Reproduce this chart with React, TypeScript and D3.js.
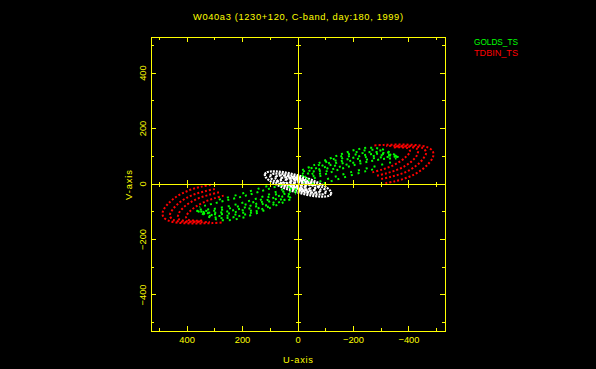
import React from "react";
import * as d3 from "d3";

const title = "W040a3 (1230+120, C-band, day:180, 1999)";
const xLabel = "U-axis";
const yLabel = "V-axis";
const tickValues = [-500, -400, -300, -200, -100, 0, 100, 200, 300, 400, 500];
const labelValues = [400, 200, 0, -200, -400];
const legendNames = ["GOLDS_TS", "TDBIN_TS"];
const legendColors = ["#00ff00", "#ff0000"];

// uv tracks, one half only (u, v); the conjugate (-u, -v) is drawn too
const goldsTracks = [
  [[-15, 50], [-60, 69], [-110, 90], [-160, 109], [-210, 124], [-255, 131], [-300, 126], [-340, 110], [-360, 100]],
  [[-12, 42], [-60, 62], [-110, 83], [-160, 101], [-210, 115], [-258, 123], [-302, 120], [-342, 106], [-362, 98]],
  [[-8, 34], [-60, 55], [-110, 75], [-160, 93], [-210, 107], [-260, 115], [-305, 113], [-345, 102], [-365, 95]],
  [[-6, 26], [-58, 46], [-108, 65], [-158, 83], [-208, 97], [-258, 107], [-302, 109], [-342, 101], [-366, 95]],
  [[-5, 18], [-55, 38], [-105, 56], [-155, 73], [-205, 88], [-255, 99], [-300, 104], [-340, 101], [-368, 96]],
  [[-12, 12], [-62, 31], [-112, 49], [-162, 66], [-212, 80], [-262, 91], [-308, 97], [-348, 96]],
  [[-20, 6], [-70, 25], [-120, 43], [-170, 59], [-220, 73], [-270, 84], [-315, 91], [-355, 92]],
  [[-50, 0], [-100, 16], [-150, 31], [-200, 45], [-250, 57], [-295, 68], [-335, 78], [-355, 84]],
  [[-90, 2], [-140, 16], [-190, 31], [-240, 45], [-288, 57]],
];

const tdbinTracks = [
  [[315, -3], [350, -10], [385, -20], [418, -34], [447, -52], [471, -74], [487, -98], [486, -118], [465, -133], [430, -140], [390, -142], [350, -142], [310, -141], [275, -139]],
  [[300, -18], [335, -26], [370, -36], [402, -50], [430, -69], [452, -92], [462, -114], [450, -129], [420, -136], [385, -138], [350, -138], [318, -137]],
  [[285, -30], [320, -39], [355, -50], [386, -65], [412, -84], [430, -106], [432, -124], [410, -133], [378, -135], [345, -135]],
  [[268, -42], [303, -52], [336, -64], [366, -80], [390, -99], [404, -118], [395, -129], [370, -132], [345, -132]],
];

const shortTracks = [
  [[119.9, 35.5], [113.6, 41.7], [99.6, 45.1], [78.8, 45.4], [52.5, 42.7], [22.9, 37.0], [-8.5, 28.8], [-39.3, 18.6], [-67.3, 7.1], [-90.8, -4.8], [-108.1, -16.3], [-118.0, -26.8], [-119.9, -35.5]],
  [[100.7, 29.8], [95.4, 34.7], [83.8, 37.3], [66.4, 37.4], [44.4, 34.8], [19.5, 29.9], [-6.8, 23.0], [-32.7, 14.5], [-56.2, 5.0], [-76.0, -4.8], [-90.6, -14.3], [-99.0, -22.9], [-100.7, -29.8]],
  [[81.5, 24.1], [77.2, 28.3], [67.8, 30.5], [53.6, 30.6], [35.9, 28.7], [15.6, 24.7], [-5.7, 19.2], [-26.6, 12.3], [-45.7, 4.5], [-61.6, -3.6], [-73.4, -11.3], [-80.2, -18.3], [-81.5, -24.1]],
  [[62.3, 18.5], [59.0, 21.7], [51.7, 23.7], [40.9, 23.9], [27.3, 22.5], [11.7, 19.7], [-4.5, 15.3], [-20.5, 10.1], [-35.1, 4.1], [-47.3, -2.3], [-56.3, -8.3], [-61.4, -13.9], [-62.3, -18.5]],
  [[46.0, 13.6], [37.9, 18.5], [19.6, 18.4], [-4.0, 13.4], [-26.4, 4.8], [-41.9, -5.1], [-46.0, -13.6]],
  [[30.7, 9.1], [12.8, 12.8], [-2.8, 9.6], [-17.8, 3.8], [-30.7, -9.1]],
  [[17.3, 5.1], [-1.7, 5.8], [-17.3, -5.1]],
];

const W = 596;
const H = 369;
const left = 151;
const right = 445;
const top = 37;
const bottom = 331;
const yellow = "#ffff00";
const font = "'Liberation Sans', Arial, sans-serif";

const fmt = (v: number) => (v < 0 ? "\u2212" + Math.abs(v) : String(v));

export default function App() {
  const x = d3.scaleLinear().domain([530, -530]).range([left, right]);
  const y = d3.scaleLinear().domain([530, -530]).range([top, bottom]);
  const line = d3
    .line<number[]>()
    .x((d) => x(d[0]))
    .y((d) => y(d[1]))
    .curve(d3.curveCatmullRom);

  const both = (tracks: number[][][]) =>
    tracks.flatMap((t) => [t, t.map(([u, v]) => [-u, -v])]);

  const tickLen = (v: number) => (v % 200 === 0 ? 5 : 3);
  const crossLen = (v: number) => (v % 200 === 0 ? 4 : 2.5);
  const greenDash = ["2 4", "2 5", "2 6"];

  return (
    <svg
      width={W}
      height={H}
      style={{ position: "absolute", left: 0, top: 0, display: "block", background: "#000" }}
    >
      <rect x={0} y={0} width={W} height={H} fill="#000" />

      {/* tracks */}
      {both(tdbinTracks).map((t, i) => (
        <path key={"r" + i} d={line(t) || ""} fill="none" stroke="#ff0000" strokeWidth={2} strokeDasharray="2 2" />
      ))}
      {both(shortTracks).map((t, i) => (
        <path key={"w" + i} d={line(t) || ""} fill="none" stroke="#ffffff" strokeWidth={2.2} strokeDasharray={i < 4 ? "2 1" : "3 1"} />
      ))}
      {both(goldsTracks).map((t, i) => (
        <path
          key={"g" + i}
          d={line(t) || ""}
          fill="none"
          stroke="#00ff00"
          strokeWidth={2}
          strokeDasharray={greenDash[i % 3]}
          strokeDashoffset={(i * 3) % 7}
        />
      ))}

      {/* frame and zero axes */}
      <g stroke={yellow} strokeWidth={1} shapeRendering="crispEdges" fill="none">
        <rect x={left} y={top} width={right - left} height={bottom - top} />
        <line x1={x(0)} x2={x(0)} y1={top} y2={bottom} />
        <line x1={left} x2={right} y1={y(0)} y2={y(0)} />
        {tickValues.map((v) => (
          <g key={"t" + v}>
            <line x1={x(v)} x2={x(v)} y1={bottom} y2={bottom - tickLen(v)} />
            <line x1={x(v)} x2={x(v)} y1={top} y2={top + tickLen(v)} />
            <line x1={left} x2={left + tickLen(v)} y1={y(v)} y2={y(v)} />
            <line x1={right} x2={right - tickLen(v)} y1={y(v)} y2={y(v)} />
            {v !== 0 && (
              <>
                <line x1={x(v)} x2={x(v)} y1={y(0) - crossLen(v)} y2={y(0) + crossLen(v)} />
                <line x1={x(0) - crossLen(v)} x2={x(0) + crossLen(v)} y1={y(v)} y2={y(v)} />
              </>
            )}
          </g>
        ))}
      </g>

      {/* labels */}
      <g fill={yellow} fontFamily={font} fontSize={9.3}>
        <text x={298} y={19.5} textAnchor="middle" textLength={210} lengthAdjust="spacing">{title}</text>
        {labelValues.map((v) => (
          <text key={"xl" + v} x={x(v)} y={343} textAnchor="middle">{fmt(v)}</text>
        ))}
        {labelValues.map((v) => (
          <text key={"yl" + v} transform={`translate(145.5,${y(v)}) rotate(-90)`} textAnchor="middle">{fmt(v)}</text>
        ))}
        <text x={298} y={362.5} textAnchor="middle" textLength={30} lengthAdjust="spacing">{xLabel}</text>
        <text transform="translate(131.5,185) rotate(-90)" textAnchor="middle" textLength={30} lengthAdjust="spacing">{yLabel}</text>
      </g>

      {/* legend */}
      <g fontFamily={font} fontSize={9.3}>
        {legendNames.map((n, i) => (
          <text key={n} x={474} y={45 + i * 10.7} fill={legendColors[i]} textLength={44} lengthAdjust="spacingAndGlyphs">{n}</text>
        ))}
      </g>
    </svg>
  );
}
